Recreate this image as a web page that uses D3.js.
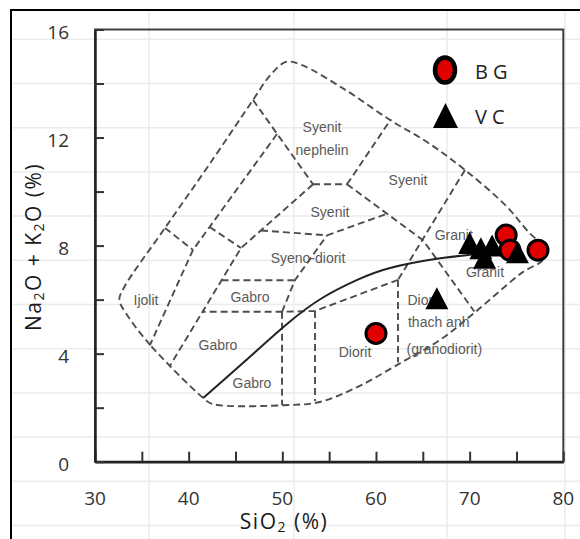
<!DOCTYPE html>
<html>
<head>
<meta charset="utf-8">
<script src="https://cdn.jsdelivr.net/npm/d3@7"></script>
<style>
    body { margin: 0; background: #fff; }
    svg { display: block; }
</style>
</head>
<body>
<svg class="tas-svg" width="580" height="539"></svg>
<script>
// Sample values (SiO2 %, Na2O+K2O %)
var seriesNames = ["BG", "VC"];
var bgSiO2 = [60.0, 73.9, 74.3, 77.3];
var bgAlk = [4.75, 8.39, 7.83, 7.83];
var vcSiO2 = [66.5, 70.0, 71.2, 71.6, 72.4, 75.1];
var vcAlk = [6.05, 8.10, 7.90, 7.55, 8.00, 7.75];

// Axis ticks
var xTicks = [30, 35, 40, 45, 50, 55, 60, 65, 70, 75, 80];
var xLabels = [30, 40, 50, 60, 70, 80];
var yTicks = [0, 2, 4, 6, 8, 10, 12, 14, 16];
var yLabels = [0, 4, 8, 12, 16];

// TAS field outline (dashed envelope)
var outline = [
    [41.55, 2.36], [35.9, 4.32], [33.3, 5.5], [32.6, 6.0], [33.1, 6.45],
    [37.47, 8.65], [42.2, 11.0], [46.87, 13.39], [48.7, 14.3], [50.4, 14.8],
    [52.1, 14.68], [56.8, 13.75], [61.5, 12.65], [65.6, 11.8], [69.5, 10.8],
    [73.8, 9.5], [76.4, 8.46], [77.9, 7.95], [77.9, 7.5], [75.6, 7.0],
    [70.6, 5.54], [66.8, 4.5], [62.6, 3.65], [58.0, 2.76], [54.0, 2.21],
    [50.8, 2.1], [42.5, 2.14]
];

// Field boundaries inside the envelope
var fieldLines = [
    [[37.47, 8.65], [40.46, 7.84]],
    [[49.43, 12.13], [40.46, 7.84], [35.87, 4.32]],
    [[42.24, 8.69], [45.59, 7.91]],
    [[53.28, 10.27], [45.59, 7.91], [38.0, 3.55]],
    [[46.87, 13.39], [53.28, 10.27]],
    [[53.28, 10.27], [56.91, 10.27]],
    [[56.91, 10.27], [61.6, 12.68]],
    [[56.91, 10.27], [65.02, 8.20], [70.5, 5.56]],
    [[69.5, 10.8], [62.35, 6.73]],
    [[62.35, 6.73], [62.35, 3.68]],
    [[62.35, 6.73], [53.49, 5.58], [49.97, 5.55], [41.5, 5.55]],
    [[53.49, 5.58], [53.49, 2.25]],
    [[49.97, 5.55], [49.97, 2.1]],
    [[49.97, 5.55], [51.35, 6.72], [54.77, 8.38]],
    [[43.5, 6.72], [51.35, 6.72]],
    [[47.72, 8.56], [54.77, 8.38], [61.18, 9.18]]
];

// Alkaline / subalkaline divide (solid)
var divideLine = [
    [41.55, 2.36], [46.0, 3.72], [50.5, 5.1], [54.3, 6.07], [58.0, 6.73],
    [61.5, 7.17], [66.5, 7.51], [70.0, 7.66], [71.0, 7.7]
];

// Field names
var fieldNames = ["Syenit", "nephelin", "Syenit", "Syenit", "Syeno-diorit", "Ijolit",
    "Gabro", "Gabro", "Gabro", "Diorit", "Diorit", "thach anh", "(granodiorit)", "Granit", "Granit"];
var fieldX = [54.24, 54.24, 63.42, 55.09, 52.74, 35.45, 46.55, 43.13, 46.76, 57.76, 65.1, 66.7, 67.3, 68.3, 71.64];
var fieldY = [12.39, 11.54, 10.42, 9.23, 7.54, 5.98, 6.10, 4.32, 2.91, 4.06, 6.0, 5.18, 4.18, 8.38, 7.01];

var svg = d3.select(".tas-svg");
var plot = {left: 95, top: 29.5, right: 563.3, bottom: 461.7};

var x = d3.scaleLinear().domain([30, 80]).range([plot.left, plot.right]);
var y = d3.scaleLinear().domain([0, 16]).range([plot.bottom, plot.top]);

// Spreadsheet cell grid showing through the chart
var sheet = svg.append("g");
for (var gy = 39.3; gy < 539; gy += 44.2) {
    sheet.append("line").attr("x1", 11).attr("x2", 580).attr("y1", gy).attr("y2", gy)
        .attr("stroke", "#ebebeb").attr("stroke-width", 1.5);
}
[149, 294, 447, 565].forEach(function(gx) {
    sheet.append("line").attr("x1", gx).attr("x2", gx).attr("y1", 10).attr("y2", 539)
        .attr("stroke", "#ebebeb").attr("stroke-width", 1.5);
});

// Chart border (cropped)
svg.append("path")
    .attr("d", "M11,539 L11,10 L580,10")
    .attr("fill", "none").attr("stroke", "#000").attr("stroke-width", 2);

var line = d3.line()
    .x(function(d) { return x(d[0]); })
    .y(function(d) { return y(d[1]); });

var diagram = svg.append("g");

// Envelope
diagram.append("path")
    .attr("d", line.curve(d3.curveCatmullRomClosed.alpha(0.5))(outline))
    .attr("fill", "none")
    .attr("stroke", "#4d4d4d")
    .attr("stroke-width", 1.9)
    .attr("stroke-dasharray", "7,4");

line.curve(d3.curveLinear);
diagram.selectAll(".field-line")
    .data(fieldLines)
    .enter()
        .append("path")
        .attr("class", "field-line")
        .attr("d", function(d) { return line(d); })
        .attr("fill", "none")
        .attr("stroke", "#4d4d4d")
        .attr("stroke-width", 1.9)
        .attr("stroke-dasharray", "7,4");

diagram.append("path")
    .attr("d", line.curve(d3.curveNatural)(divideLine))
    .attr("fill", "none")
    .attr("stroke", "#222")
    .attr("stroke-width", 2);

diagram.selectAll(".field-name")
    .data(fieldNames)
    .enter()
        .append("text")
        .attr("class", "field-name")
        .attr("x", function(d, i) { return x(fieldX[i]); })
        .attr("y", function(d, i) { return y(fieldY[i]); })
        .attr("text-anchor", "middle")
        .attr("dominant-baseline", "central")
        .attr("font-family", "'Liberation Sans', Arial, sans-serif")
        .attr("font-size", "14px")
        .attr("fill", "#5a5a5a")
        .text(function(d) { return d; });

// Plot frame and axes
svg.append("rect")
    .attr("x", plot.left).attr("y", plot.top)
    .attr("width", plot.right - plot.left).attr("height", plot.bottom - plot.top)
    .attr("fill", "none").attr("stroke", "#404040").attr("stroke-width", 2);

svg.append("g")
    .attr("transform", "translate(0," + plot.bottom + ")")
    .call(d3.axisBottom(x).tickValues(xTicks).tickSizeInner(-10).tickSizeOuter(0).tickFormat(""))
    .call(function(g) {
        g.select(".domain").attr("stroke", "#222").attr("stroke-width", 2.5);
        g.selectAll(".tick line").attr("stroke", "#333").attr("stroke-width", 2);
    });

svg.append("g")
    .attr("transform", "translate(" + plot.left + ",0)")
    .call(d3.axisLeft(y).tickValues(yTicks).tickSizeInner(-9).tickSizeOuter(0).tickFormat(""))
    .call(function(g) {
        g.select(".domain").attr("stroke", "#222").attr("stroke-width", 2.5);
        g.selectAll(".tick line").attr("stroke", "#333").attr("stroke-width", 2);
    });

var tickFont = "'Open Sans', 'DejaVu Sans', sans-serif";

svg.selectAll(".x-label")
    .data(xLabels)
    .enter()
        .append("text")
        .attr("class", "x-label")
        .attr("x", function(d) { return x(d); })
        .attr("y", 498)
        .attr("text-anchor", "middle")
        .attr("dominant-baseline", "central")
        .attr("font-family", tickFont)
        .attr("font-size", "19px")
        .attr("fill", "#333")
        .text(function(d) { return d; });

svg.selectAll(".y-label")
    .data(yLabels)
    .enter()
        .append("text")
        .attr("class", "y-label")
        .attr("x", 69)
        .attr("y", function(d) { return y(d) + 2; })
        .attr("text-anchor", "end")
        .attr("dominant-baseline", "central")
        .attr("font-family", tickFont)
        .attr("font-size", "19px")
        .attr("fill", "#333")
        .text(function(d) { return d; });

// Axis titles
var xTitle = svg.append("text")
    .attr("x", 284).attr("y", 521)
    .attr("text-anchor", "middle")
    .attr("dominant-baseline", "central")
    .attr("font-family", tickFont)
    .attr("font-size", "21px")
    .attr("letter-spacing", "1.5px")
    .attr("fill", "#1a1a1a");
xTitle.append("tspan").text("SiO");
xTitle.append("tspan").attr("font-size", "14px").attr("dy", 5).text("2");
xTitle.append("tspan").attr("dy", -5).text(" (%)");

var yTitle = svg.append("text")
    .attr("transform", "translate(33,247) rotate(-90)")
    .attr("text-anchor", "middle")
    .attr("dominant-baseline", "central")
    .attr("font-family", tickFont)
    .attr("font-size", "21px")
    .attr("letter-spacing", "1.5px")
    .attr("fill", "#1a1a1a");
yTitle.append("tspan").text("Na");
yTitle.append("tspan").attr("font-size", "14px").attr("dy", 5).text("2");
yTitle.append("tspan").attr("dy", -5).text("O + K");
yTitle.append("tspan").attr("font-size", "14px").attr("dy", 5).text("2");
yTitle.append("tspan").attr("dy", -5).text("O (%)");

// Markers
function trianglePath(w, h) {
    return "M0," + (-h / 2) + "L" + (w / 2) + "," + (h / 2) + "L" + (-w / 2) + "," + (h / 2) + "Z";
}

svg.selectAll(".bg-point")
    .data(bgSiO2)
    .enter()
        .append("circle")
        .attr("class", "bg-point")
        .attr("cx", function(d) { return x(d); })
        .attr("cy", function(d, i) { return y(bgAlk[i]); })
        .attr("r", 10)
        .attr("fill", "#e00000")
        .attr("stroke", "#000")
        .attr("stroke-width", 3);

svg.selectAll(".vc-point")
    .data(vcSiO2)
    .enter()
        .append("path")
        .attr("class", "vc-point")
        .attr("d", trianglePath(23, 22))
        .attr("transform", function(d, i) { return "translate(" + x(d) + "," + y(vcAlk[i]) + ")"; })
        .attr("fill", "#000");

// Legend
var legend = svg.append("g");
legend.append("ellipse")
    .attr("cx", 445).attr("cy", 70).attr("rx", 10).attr("ry", 12.5)
    .attr("fill", "#e00000").attr("stroke", "#000").attr("stroke-width", 4.5);
legend.append("path")
    .attr("d", trianglePath(25, 25))
    .attr("transform", "translate(445.5,115.5)")
    .attr("fill", "#000");
legend.selectAll(".legend-text")
    .data(seriesNames)
    .enter()
        .append("text")
        .attr("class", "legend-text")
        .attr("x", 475)
        .attr("y", function(d, i) { return 71 + i * 45; })
        .attr("dominant-baseline", "central")
        .attr("font-family", tickFont)
        .attr("font-size", "20px")
        .attr("letter-spacing", "5px")
        .attr("fill", "#222")
        .text(function(d) { return d; });
</script>
</body>
</html>
